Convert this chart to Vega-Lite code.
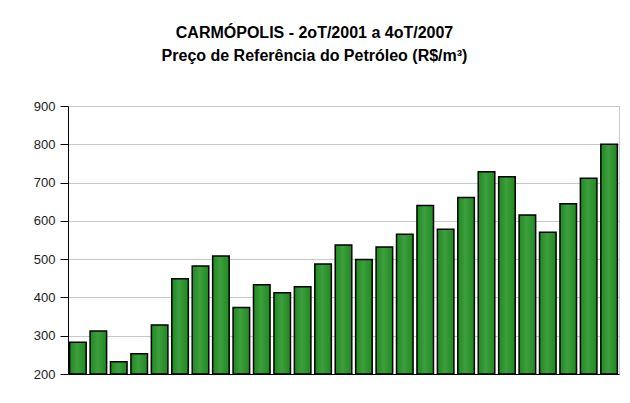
{
  "$schema": "https://vega.github.io/schema/vega-lite/v6.json",
  "autosize": {"type": "none"},
  "padding": {"left": 68, "top": 106, "right": 11, "bottom": 29},
  "width": 551,
  "height": 268,
  "background": "white",
  "title": {
    "text": ["CARMÓPOLIS - 2oT/2001 a 4oT/2007", "Preço de Referência do Petróleo (R$/m³)"],
    "font": "Liberation Sans",
    "fontSize": 16,
    "fontWeight": "bold",
    "color": "#000000",
    "anchor": "middle",
    "frame": "group",
    "dx": -29,
    "lineHeight": 23,
    "offset": 36
  },
  "data": {
    "values": [
      {"trimestre": "2T2001", "preco": 283},
      {"trimestre": "3T2001", "preco": 312},
      {"trimestre": "4T2001", "preco": 232},
      {"trimestre": "1T2002", "preco": 253},
      {"trimestre": "2T2002", "preco": 328},
      {"trimestre": "3T2002", "preco": 449},
      {"trimestre": "4T2002", "preco": 482},
      {"trimestre": "1T2003", "preco": 508},
      {"trimestre": "2T2003", "preco": 374},
      {"trimestre": "3T2003", "preco": 433},
      {"trimestre": "4T2003", "preco": 412},
      {"trimestre": "1T2004", "preco": 428},
      {"trimestre": "2T2004", "preco": 487},
      {"trimestre": "3T2004", "preco": 537},
      {"trimestre": "4T2004", "preco": 499},
      {"trimestre": "1T2005", "preco": 532},
      {"trimestre": "2T2005", "preco": 565},
      {"trimestre": "3T2005", "preco": 640},
      {"trimestre": "4T2005", "preco": 578},
      {"trimestre": "1T2006", "preco": 661},
      {"trimestre": "2T2006", "preco": 728},
      {"trimestre": "3T2006", "preco": 715},
      {"trimestre": "4T2006", "preco": 615},
      {"trimestre": "1T2007", "preco": 570},
      {"trimestre": "2T2007", "preco": 645},
      {"trimestre": "3T2007", "preco": 711},
      {"trimestre": "4T2007", "preco": 800}
    ]
  },
  "mark": {
    "type": "bar",
    "stroke": "#000000",
    "strokeWidth": 1.5,
    "color": {
      "gradient": "linear",
      "x1": 0, "x2": 1, "y1": 0, "y2": 0,
      "stops": [
        {"offset": 0, "color": "#1f8a1f"},
        {"offset": 0.45, "color": "#3d9e3d"},
        {"offset": 1, "color": "#1f8a1f"}
      ]
    }
  },
  "encoding": {
    "x": {
      "field": "trimestre",
      "type": "ordinal",
      "sort": null,
      "scale": {"paddingInner": 0.19, "paddingOuter": 0.08},
      "axis": {
        "title": null,
        "labels": false,
        "ticks": false,
        "domainColor": "#000000",
        "domainWidth": 1
      }
    },
    "y": {
      "field": "preco",
      "type": "quantitative",
      "scale": {"domain": [200, 900], "nice": false, "zero": false},
      "axis": {
        "title": null,
        "values": [200, 300, 400, 500, 600, 700, 800, 900],
        "labelFont": "Liberation Sans",
        "labelFontSize": 13,
        "labelColor": "#222222",
        "labelPadding": 5,
        "tickSize": 8,
        "tickColor": "#000000",
        "domainColor": "#000000",
        "gridColor": "#c8c8c8",
        "gridWidth": 1
      }
    },
    "y2": {"datum": 200}
  },
  "config": {
    "view": {"stroke": "#cccccc", "strokeWidth": 1}
  }
}
